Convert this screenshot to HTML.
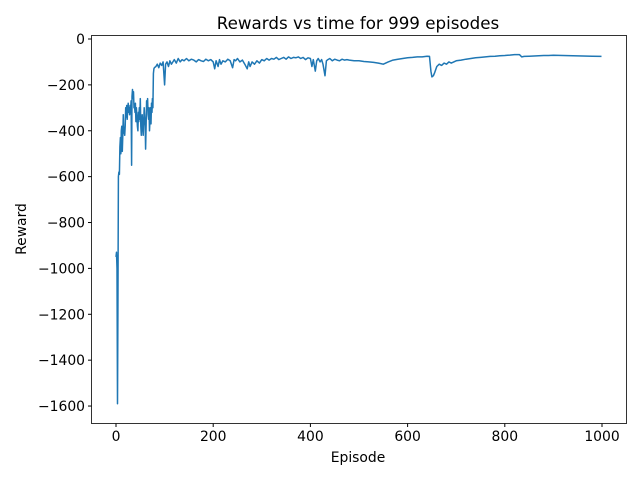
<!DOCTYPE html>
<html><head><meta charset="utf-8"><style>
body{margin:0;background:#fff;}
svg text{font-family:"DejaVu Sans","Liberation Sans",sans-serif;font-size:13.9px;fill:#000}
</style></head><body>
<svg id="chart" width="640" height="480" xmlns="http://www.w3.org/2000/svg">
<rect width="640" height="480" fill="#fff"/>
<text x="358" y="29" text-anchor="middle" style="font-size:16.7px">Rewards vs time for 999 episodes</text>
<text x="358" y="462" text-anchor="middle">Episode</text>
<text x="26" y="229" text-anchor="middle" transform="rotate(-90 26 229)">Reward</text>
<g id="ticks"></g>
<path id="line" fill="none" stroke="#1f77b4" stroke-width="1.5" stroke-linejoin="round"/>
<rect x="91.5" y="35.5" width="535" height="388" fill="none" stroke="#000" stroke-width="0.8"/>
</svg>
<script>
const earlyRewards=[-950,-930,-1000,-1590,-1200,-600,-580,-590,-470,-430,
-500,-400,-380,-490,-420,-330,-410,-400,-420,-380,
-300,-340,-290,-350,-300,-280,-320,-300,-330,-290,
-310,-270,-550,-250,-220,-260,-230,-300,-290,-320,
-280,-360,-300,-340,-380,-400,-320,-360,-300,-350,
-260,-380,-420,-360,-330,-380,-420,-360,-300,-340,
-380,-480,-380,-270,-300,-260,-330,-350,-300,-400,
-350,-300,-370,-280,-320,-260,-300,-150,-130,-125];
const lateEpisodes=[82,85,88,91,94,97,100,102,105,108,
111,114,117,120,124,128,132,136,140,145,
150,155,160,165,170,175,180,185,190,195,
200,203,206,210,213,216,220,225,230,235,
240,243,246,250,255,260,265,270,273,276,
280,285,290,295,300,305,310,315,320,325,
330,335,340,345,350,355,360,365,370,375,
380,385,390,395,400,403,406,410,413,416,
420,423,426,430,433,436,440,445,450,455,
460,465,470,475,480,490,500,510,520,530,
540,550,560,570,580,590,600,610,620,630,
640,645,648,650,653,656,660,665,670,675,
680,685,690,700,710,720,730,740,750,760,
770,780,790,800,810,820,830,835,840,850,
860,870,880,890,900,920,940,960,980,999];
const lateRewards=[-120,-110,-125,-105,-115,-100,-200,-110,-100,-120,
-95,-110,-100,-90,-105,-85,-100,-90,-95,-85,
-95,-88,-92,-100,-90,-95,-98,-88,-95,-90,
-100,-130,-95,-120,-90,-110,-95,-100,-88,-95,
-125,-90,-95,-85,-100,-92,-110,-130,-100,-120,
-100,-110,-95,-105,-90,-95,-85,-92,-85,-88,
-80,-90,-85,-80,-88,-78,-85,-80,-82,-78,
-85,-80,-90,-82,-85,-120,-90,-140,-95,-85,
-100,-90,-110,-160,-95,-90,-85,-95,-88,-92,
-95,-88,-92,-90,-92,-95,-95,-98,-100,-102,
-105,-110,-100,-92,-88,-85,-82,-80,-78,-78,
-75,-76,-140,-165,-160,-145,-120,-110,-115,-105,
-110,-100,-105,-95,-92,-88,-85,-82,-80,-78,
-76,-75,-73,-72,-70,-68,-68,-78,-76,-75,
-74,-73,-72,-72,-71,-72,-73,-74,-75,-76];
const xTicks=[0,200,400,600,800,1000];
const yTicks=[0,-200,-400,-600,-800,-1000,-1200,-1400,-1600];
const episodes=earlyRewards.map((v,i)=>i).concat(lateEpisodes);
const rewards=earlyRewards.concat(lateRewards);
const xs=v=>116+v*0.486, ys=v=>39-v*0.2294;
const ns="http://www.w3.org/2000/svg", g=document.getElementById('ticks');
xTicks.forEach(t=>{const l=document.createElementNS(ns,'line');l.setAttribute('x1',xs(t));l.setAttribute('x2',xs(t));l.setAttribute('y1',423.5);l.setAttribute('y2',427);l.setAttribute('stroke','#000');


g.appendChild(l);const tx=document.createElementNS(ns,'text');tx.setAttribute('x',xs(t));tx.setAttribute('y',441);tx.setAttribute('text-anchor','middle');tx.textContent=t;


g.appendChild(tx);});
yTicks.forEach(t=>{const l=document.createElementNS(ns,'line');l.setAttribute('x1',88);l.setAttribute('x2',91.5);l.setAttribute('y1',ys(t));l.setAttribute('y2',ys(t));l.setAttribute('stroke','#000');


g.appendChild(l);const tx=document.createElementNS(ns,'text');tx.setAttribute('x',85);tx.setAttribute('y',ys(t)+5);tx.setAttribute('text-anchor','end');tx.textContent=t===0?'0':'\u2212'+Math.abs(t);


g.appendChild(tx);});
document.getElementById('line').setAttribute('d',episodes.map((e,i)=>(i?'L':'M')+xs(e).toFixed(1)+','+ys(rewards[i]).toFixed(1)).join(''));
</script>
</body></html>
